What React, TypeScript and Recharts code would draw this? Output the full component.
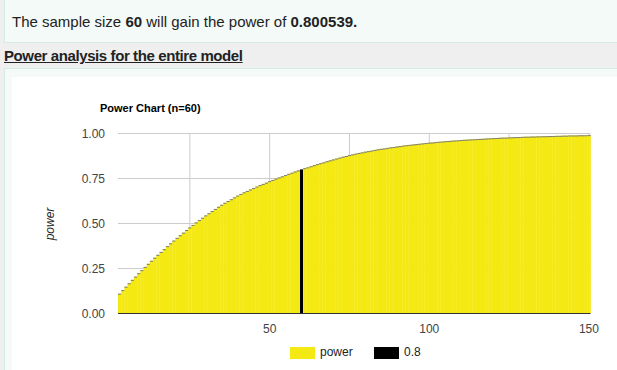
import { BarChart, Bar, XAxis, YAxis, CartesianGrid } from 'recharts';

// sample sizes 3..150, one bar each
const FIRST_N = 3;

// power, by sample size starting at n=3
const POWER_3_TO_27 = [
  0.110, 0.130, 0.149, 0.168, 0.187, 0.205, 0.224, 0.241, 0.259, 0.276,
  0.293, 0.310, 0.326, 0.342, 0.358, 0.374, 0.390, 0.405, 0.420, 0.435,
  0.449, 0.464, 0.478, 0.492, 0.506,
];
const POWER_28_TO_60 = [
  0.519, 0.532, 0.545, 0.557, 0.569, 0.581, 0.593, 0.604, 0.615, 0.625,
  0.635, 0.645, 0.655, 0.664, 0.673, 0.681, 0.689, 0.697, 0.705, 0.713,
  0.720, 0.727, 0.735, 0.742, 0.749, 0.756, 0.762, 0.769, 0.776, 0.782,
  0.789, 0.795, 0.801,
];
const POWER_61_TO_100 = [
  0.807, 0.812, 0.818, 0.824, 0.830, 0.835, 0.840, 0.846, 0.851, 0.856,
  0.861, 0.866, 0.871, 0.875, 0.880, 0.884, 0.888, 0.892, 0.895, 0.899,
  0.902, 0.905, 0.909, 0.912, 0.915, 0.917, 0.920, 0.923, 0.925, 0.928,
  0.930, 0.933, 0.935, 0.937, 0.939, 0.941, 0.943, 0.945, 0.947, 0.949,
];
const POWER_101_TO_150 = [
  0.950, 0.952, 0.954, 0.955, 0.957, 0.958, 0.960, 0.961, 0.962, 0.964,
  0.965, 0.966, 0.967, 0.968, 0.969, 0.970, 0.971, 0.972, 0.973, 0.974,
  0.975, 0.976, 0.977, 0.977, 0.978, 0.979, 0.980, 0.980, 0.981, 0.982,
  0.982, 0.983, 0.983, 0.984, 0.984, 0.985, 0.985, 0.986, 0.986, 0.987,
  0.987, 0.988, 0.988, 0.989, 0.989, 0.989, 0.990, 0.990, 0.990, 0.991,
];

const TARGET_N = 60;
const TARGET_POWER = 0.800539;

const X_TICKS = [50, 100, 150];
const X_GRID = [25, 50, 75, 100, 125, 150];
const Y_TICKS = [0, 0.25, 0.5, 0.75, 1];

const YELLOW = '#f4e913';
const FONT = '"Liberation Sans", Arial, Helvetica, sans-serif';

const powerValues = [...POWER_3_TO_27, ...POWER_28_TO_60, ...POWER_61_TO_100, ...POWER_101_TO_150];

const rows = powerValues.map((p, i) => {
  const n = FIRST_N + i;
  return {
    n,
    power: n === TARGET_N ? null : p,
    target: n === TARGET_N ? TARGET_POWER : null,
  };
});

// yellow bar with the thin grey cap google draws on top
// (a little overlap so neighbouring bars don't leave seams)
const PowerBar = (props: any) => {
  const { x, y, width, height } = props;
  if (!height || height <= 0) return null;
  return (
    <g>
      <rect x={x} y={y} width={width + 0.5} height={height} fill={YELLOW} />
      <rect x={x} y={y} width={width + 0.5} height={1} fill="#7c7c7c" />
    </g>
  );
};

export default function App() {
  return (
    <div
      style={{
        position: 'absolute',
        left: 0,
        top: 0,
        width: 617,
        height: 370,
        overflow: 'hidden',
        background: '#efefef',
        fontFamily: FONT,
        color: '#222',
      }}
    >
      <div
        style={{
          position: 'absolute',
          left: 4,
          top: -10,
          width: 700,
          height: 53,
          boxSizing: 'border-box',
          background: '#f4faf7',
          border: '1px solid #d7ece1',
        }}
      />
      <div style={{ position: 'absolute', left: 12, top: 13, fontSize: 15, lineHeight: '18px', whiteSpace: 'nowrap' }}>
        The sample size <b>60</b> will gain the power of <b>0.800539.</b>
      </div>

      <div
        style={{
          position: 'absolute',
          left: 4,
          top: 47,
          fontSize: 15,
          lineHeight: '18px',
          fontWeight: 'bold',
          textDecoration: 'underline',
          letterSpacing: -0.4,
          whiteSpace: 'nowrap',
        }}
      >
        Power analysis for the entire model
      </div>

      <div
        style={{
          position: 'absolute',
          left: 4,
          top: 68,
          width: 700,
          height: 400,
          boxSizing: 'border-box',
          background: '#f4faf7',
          border: '1px solid #d7ece1',
        }}
      />
      <div style={{ position: 'absolute', left: 12, top: 77, width: 700, height: 400, background: '#fff' }} />

      <div
        style={{
          position: 'absolute',
          left: 100,
          top: 102,
          fontSize: 11,
          lineHeight: '13px',
          fontWeight: 'bold',
          color: '#000',
          whiteSpace: 'nowrap',
        }}
      >
        Power Chart (n=60)
      </div>

      <div
        style={{
          position: 'absolute',
          left: 20,
          top: 216.5,
          width: 60,
          textAlign: 'center',
          fontSize: 12,
          lineHeight: '14px',
          fontStyle: 'italic',
          transform: 'rotate(-90deg)',
        }}
      >
        power
      </div>

      <div style={{ position: 'absolute', left: 0, top: 0 }}>
        <BarChart
          width={617}
          height={370}
          data={rows}
          margin={{ top: 133.5, right: 26.5, bottom: 26.5, left: 58 }}
          barCategoryGap={0}
          barGap={0}
        >
          <CartesianGrid stroke="#cccccc" verticalValues={X_GRID} horizontalValues={Y_TICKS} />
          <XAxis
            dataKey="n"
            type="number"
            domain={[2.5, 150.5]}
            ticks={X_TICKS}
            tickLine={false}
            tickMargin={5}
            height={30}
            axisLine={{ stroke: '#333333' }}
            tick={{ fill: '#444444', fontSize: 12, fontFamily: FONT }}
          />
          <YAxis
            type="number"
            domain={[0, 1]}
            ticks={Y_TICKS}
            width={60}
            axisLine={false}
            tickLine={false}
            tickMargin={7}
            tickFormatter={(v: number) => v.toFixed(2)}
            tick={{ fill: '#444444', fontSize: 12, fontFamily: FONT }}
          />
          <Bar dataKey="power" stackId="s" fill={YELLOW} shape={PowerBar} isAnimationActive={false} />
          <Bar dataKey="target" stackId="s" fill="#000000" isAnimationActive={false} />
        </BarChart>
      </div>

      <div style={{ position: 'absolute', left: 290, top: 347, width: 25, height: 12, background: YELLOW }} />
      <div style={{ position: 'absolute', left: 320, top: 346, fontSize: 12, lineHeight: '12px' }}>power</div>
      <div style={{ position: 'absolute', left: 374, top: 347, width: 25, height: 12, background: '#000' }} />
      <div style={{ position: 'absolute', left: 404, top: 346, fontSize: 12, lineHeight: '12px' }}>0.8</div>
    </div>
  );
}
